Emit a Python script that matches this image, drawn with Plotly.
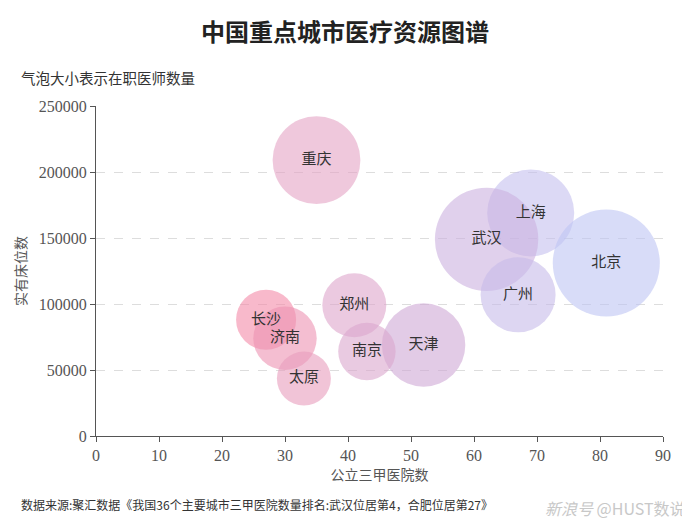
import plotly.graph_objects as go

# 城市医疗资源数据
cities = ['重庆', '上海', '武汉', '北京', '广州', '郑州', '天津', '南京', '长沙', '济南', '太原']
hospitals = [35, 69, 62, 81, 67, 41, 52, 43, 27, 30, 33]          # 公立三甲医院数
beds = [209000, 169000, 149000, 131000, 107000, 99000, 69000, 64000, 88000, 74000, 43500]  # 实有床位数
doctors = [74000, 72700, 102600, 110000, 54000, 39300, 66800, 31600, 34600, 38600, 28000]  # 在职医师数

SERIF = "Liberation Serif, Noto Sans CJK SC, serif"
SANS = "Noto Sans CJK SC, sans-serif"

# page body has an 8px margin, so the figure is a bit smaller and shifted
W, H = 682, 523
L, R, T, B = 88, 27, 98, 95
pw, ph = W - L - R, H - T - B


def px_x(x):
    # page pixel -> paper coordinate
    return (x - 8 - L) / pw


def px_y(y):
    return (H - B - (y - 8)) / ph


fig = go.Figure()
fig.add_trace(go.Scatter(
    x=hospitals,
    y=beds,
    mode='markers+text',
    text=cities,
    textposition='middle center',
    textfont=dict(family=SANS, size=15, color='#333333'),
    marker=dict(
        size=doctors,
        sizemode='area',
        sizeref=19.2,
        color=hospitals,
        colorscale=[[0, '#f38aa8'], [0.15, '#e4a3c5'], [0.46, '#cfa9d5'],
                    [0.65, '#cbb1df'], [0.78, '#c5c0ee'], [1, '#bec5f3']],
        cmin=27, cmax=81,
        showscale=False,
        opacity=0.6,
        line=dict(width=0),
    ),
    hovertemplate='%{text}<extra></extra>',
    cliponaxis=False,
))

fig.update_layout(
    width=W, height=H,
    margin=dict(l=L, r=R, t=T, b=B, autoexpand=False),
    plot_bgcolor='white',
    paper_bgcolor='white',
    showlegend=False,
    font=dict(family=SERIF, color='#555555', size=14),
    title=dict(text='<b>中国重点城市医疗资源图谱</b>', x=(345 - 8) / W, xanchor='center',
               y=1 - (33 - 8) / H, yanchor='middle',
               font=dict(family="Noto Sans CJK SC", size=24, color='#222222')),
)

fig.update_xaxes(
    range=[0, 90], dtick=10,
    showgrid=False, zeroline=False,
    showline=True, linecolor='#555555', linewidth=1,
    ticks='outside', ticklen=5, tickcolor='#555555',
    tickfont=dict(family=SERIF, size=16, color='#555555'),
    title=dict(text='公立三甲医院数', font=dict(family=SANS, size=14, color='#555555'), standoff=6),
)
fig.update_yaxes(
    range=[0, 250000], dtick=50000,
    showgrid=True, gridcolor='#dddddd', griddash='dash', gridwidth=1,
    zeroline=False,
    showline=True, linecolor='#555555', linewidth=1,
    ticks='outside', ticklen=5, tickcolor='#555555',
    tickformat='d',
    tickfont=dict(family=SERIF, size=16, color='#555555'),
    title=dict(text='实有床位数', font=dict(family=SANS, size=14, color='#555555'), standoff=8),
)

fig.add_annotation(text='气泡大小表示在职医师数量', xref='paper', yref='paper',
                   x=px_x(19), y=px_y(77), xanchor='left', yanchor='middle', showarrow=False,
                   font=dict(family=SANS, size=14.5, color='#333333'))
fig.add_annotation(text='数据来源:聚汇数据《我国36个主要城市三甲医院数量排名:武汉位居第4，合肥位居第27》',
                   xref='paper', yref='paper', x=px_x(19), y=px_y(505),
                   xanchor='left', yanchor='middle', showarrow=False,
                   font=dict(family=SANS, size=12, color='#333333'))
fig.add_annotation(text='<i>新浪号</i> @HUST数说', xref='paper', yref='paper', x=px_x(688), y=px_y(508),
                   xanchor='right', yanchor='middle', showarrow=False,
                   font=dict(family=SANS, size=16, color='#c8c8c8'))

fig.write_html("out.html")
